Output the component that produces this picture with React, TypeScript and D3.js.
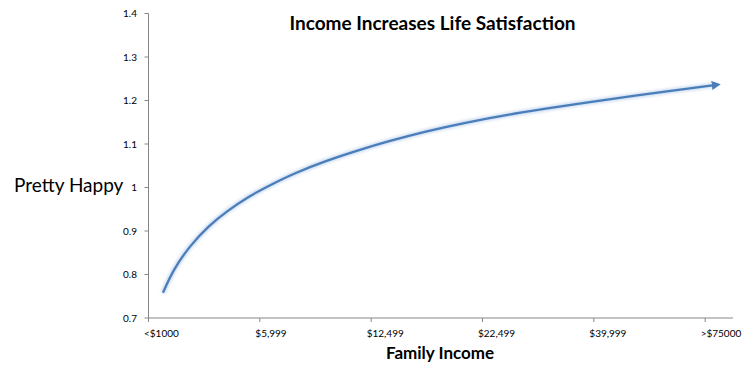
import React from "react";
import * as d3 from "d3";

const categories = ["<$1000", "$5,999", "$12,499", "$22,499", "$39,999", ">$75000"];
const yTicks = [0.7, 0.8, 0.9, 1.0, 1.1, 1.2, 1.3, 1.4];
const yTickLabels = ["0.7", "0.8", "0.9", "1", "1.1", "1.2", "1.3", "1.4"];
// position along the category axis (0 = first category) and the happiness value
const incomePos = [0.13, 0.22, 0.37, 0.55, 0.70, 0.91, 1.08, 1.30, 1.60, 1.90, 2.15, 2.47, 2.86, 3.24, 3.54, 3.92, 4.28, 5.10];
const happiness = [0.758, 0.81, 0.866, 0.914, 0.945, 0.981, 1.004, 1.032, 1.062, 1.087, 1.106, 1.128, 1.150, 1.168, 1.180, 1.195, 1.208, 1.236];

const title = "Income Increases Life Satisfaction";
const xTitle = "Family Income";
const yTitle = "Pretty Happy";

export default function App() {
  const W = 750, H = 381;
  const x = d3.scaleLinear().domain([0, 5.25]).range([148.5, 733]);
  const y = d3.scaleLinear().domain([0.7, 1.4]).range([318, 13.5]);
  const pts = incomePos.map((p, i) => [x(p), y(happiness[i])] as [number, number]);
  const line = d3.line().curve(d3.curveBasis)(pts) || "";
  const axisColor = "#868686";
  const blue = "#4A7EBB";
  const font = "Lato, 'Open Sans', sans-serif";
  return (
    <svg width={W} height={H} style={{ position: "absolute", left: 0, top: 0, background: "#fff" }}>
      <defs>
        <marker id="arr" viewBox="0 0 10 10" refX="5" refY="5" markerWidth="4" markerHeight="4" orient="auto" markerUnits="strokeWidth">
          <path d="M0,0 L10,5 L0,10 z" fill={blue} />
        </marker>
        <filter id="glow" x="-5%" y="-5%" width="110%" height="110%">
          <feGaussianBlur stdDeviation="1.5" />
        </filter>
      </defs>
      <rect x={0} y={0} width={W} height={H} fill="#fff" />
      {/* y axis */}
      <line x1={x(0)} x2={x(0)} y1={y(1.4)} y2={y(0.7)} stroke={axisColor} strokeWidth={1} />
      {yTicks.map((t, i) => (
        <g key={t}>
          <line x1={x(0) - 4} x2={x(0)} y1={y(t)} y2={y(t)} stroke={axisColor} />
          <text x={137} y={y(t) + 3.5} textAnchor="end" fontSize={10} fontFamily={font} fill="#000">{yTickLabels[i]}</text>
        </g>
      ))}
      {/* x axis */}
      <line x1={x(0)} x2={x(5.25)} y1={y(0.7)} y2={y(0.7)} stroke={axisColor} strokeWidth={1} />
      {categories.map((c, i) => (
        <g key={c}>
          <line x1={x(i)} x2={x(i)} y1={y(0.7)} y2={y(0.7) + 4} stroke={axisColor} />
          <text x={x(i) - 4.5} y={336.5} textAnchor="start" fontSize={10} fontFamily={font} fill="#000">{c}</text>
        </g>
      ))}
      {/* line with soft glow */}
      <path d={line} fill="none" stroke="#BFD3EC" strokeWidth={5} filter="url(#glow)" opacity={0.8} />
      <path d={line} fill="none" stroke={blue} strokeWidth={2.25} markerEnd="url(#arr)" />
      <text x={432.5} y={30} textAnchor="middle" fontSize={19} fontWeight="bold" fontFamily={font} fill="#000">{title}</text>
      <text x={440} y={359} textAnchor="middle" fontSize={17} fontWeight="bold" fontFamily={font} fill="#000">{xTitle}</text>
      <text x={14} y={191.5} textAnchor="start" fontSize={19} fontFamily={font} fill="#000">{yTitle}</text>
    </svg>
  );
}
